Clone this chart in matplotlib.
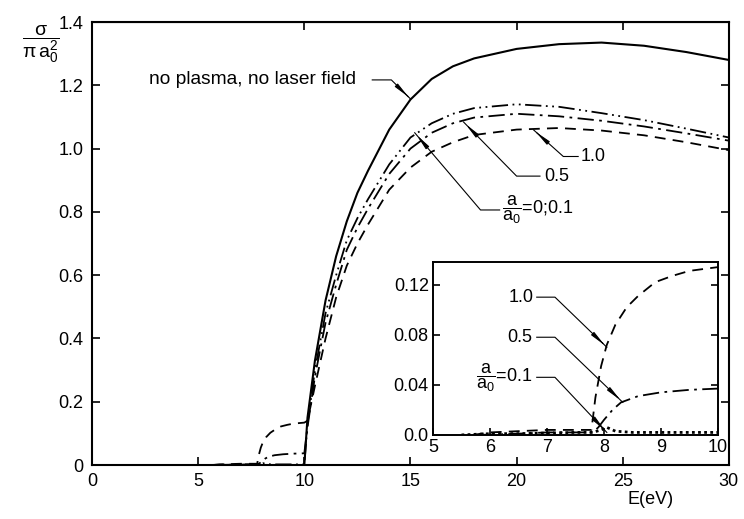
import numpy as np
import matplotlib.pyplot as plt

plt.rcParams['font.family'] = ['Liberation Sans', 'DejaVu Sans']
plt.rcParams['mathtext.fontset'] = 'custom'
plt.rcParams['mathtext.rm'] = 'Liberation Sans'
plt.rcParams['mathtext.it'] = 'Liberation Sans'

# sub-threshold part (5-10 eV), shown in the inset and at the foot of the main plot
thr_x_10 = [5.7, 6.0, 6.5, 7.0, 7.5, 7.78, 7.85, 7.95, 8.05, 8.2, 8.4, 8.6, 8.9, 9.2, 9.5, 10.0]
thr_y_10 = [0.0, 0.002, 0.003, 0.004, 0.004, 0.004, 0.03, 0.055, 0.072, 0.088, 0.102, 0.111, 0.122, 0.127, 0.131, 0.134]
thr_x_05 = [5.8, 6.5, 7.0, 7.5, 7.8, 7.9, 8.0, 8.15, 8.3, 8.6, 9.0, 9.5, 10.0]
thr_y_05 = [0.0, 0.001, 0.002, 0.002, 0.002, 0.006, 0.012, 0.02, 0.026, 0.031, 0.034, 0.036, 0.037]
thr_x_01 = [5.5, 6.0, 6.5, 7.0, 7.5, 7.8, 7.95, 8.05, 8.2, 8.5, 9.0, 9.5, 10.0]
thr_y_01 = [0.0, 0.001, 0.001, 0.0015, 0.002, 0.002, 0.004, 0.006, 0.003, 0.002, 0.002, 0.002, 0.002]

# above threshold (10-30 eV)
e = [10.0, 10.15, 10.5, 11, 11.5, 12, 12.5, 13, 14, 15, 16, 17, 18, 20, 22, 24, 26, 28, 30]
no_plasma = [0.0, 0.15, 0.33, 0.52, 0.66, 0.77, 0.86, 0.93, 1.06, 1.155, 1.22, 1.26, 1.285, 1.315, 1.33, 1.335, 1.325, 1.305, 1.28]
a_01 = [0.002, 0.13, 0.30, 0.48, 0.60, 0.71, 0.78, 0.84, 0.95, 1.035, 1.08, 1.11, 1.128, 1.14, 1.132, 1.112, 1.09, 1.063, 1.035]
a_05 = [0.037, 0.12, 0.28, 0.45, 0.57, 0.68, 0.75, 0.81, 0.92, 1.0, 1.05, 1.08, 1.098, 1.11, 1.102, 1.088, 1.07, 1.048, 1.025]
a_10 = [0.134, 0.14, 0.25, 0.40, 0.53, 0.63, 0.70, 0.76, 0.87, 0.94, 0.99, 1.02, 1.043, 1.06, 1.065, 1.057, 1.042, 1.02, 0.995]

x_ticks = [0, 5, 10, 15, 20, 25, 30]
top_ticks = [10, 15, 20, 25]
y_ticks = [0, 0.2, 0.4, 0.6, 0.8, 1.0, 1.2, 1.4]
y_labels = ['0', '0.2', '0.4', '0.6', '0.8', '1.0', '1.2', '1.4']
in_x_ticks = [5, 6, 7, 8, 9, 10]
in_y_ticks = [0.0, 0.04, 0.08, 0.12]
in_y_labels = ['0.0', '0.04', '0.08', '0.12']

ls_01 = (0, (9, 2.5, 1, 2.5, 1, 2.5))
ls_05 = (0, (9, 3, 1.5, 3))
ls_10 = (0, (6, 4))

fig = plt.figure(figsize=(7.44, 5.19), dpi=100)
ax = fig.add_axes([0.1237, 0.104, 0.856, 0.8536])

ax.plot(e, no_plasma, color='black', lw=1.5)
ax.plot(thr_x_01 + e, thr_y_01 + a_01, color='black', lw=1.3, linestyle=ls_01)
ax.plot(thr_x_05 + e, thr_y_05 + a_05, color='black', lw=1.3, linestyle=ls_05)
ax.plot(thr_x_10 + e, thr_y_10 + a_10, color='black', lw=1.3, linestyle=ls_10)

ax.set_xlim(0, 30)
ax.set_ylim(0, 1.4)
ax.set_xticks(x_ticks)
ax.set_yticks(y_ticks)
ax.set_yticklabels(y_labels)
ax.tick_params(direction='in', length=6, width=1.2, labelsize=13, right=True, pad=6)
top = ax.secondary_xaxis('top')
top.set_xticks(top_ticks)
top.set_xticklabels([])
top.tick_params(direction='in', length=6, width=1.2)
for s in ax.spines.values():
    s.set_linewidth(1.5)


def pointer(axis, text, tx, ty, corner, tip, fs=12, back=0.18):
    axis.text(tx, ty, text, fontsize=fs, ha='left', va='center')
    axis.plot([corner[0], corner[1], tip[0]], [ty, ty, tip[1]], color='black', lw=0.8)
    bx = tip[0] - (tip[0] - corner[1]) * back
    by = tip[1] - (tip[1] - ty) * back
    axis.annotate('', xy=tip, xytext=(bx, by),
                  arrowprops=dict(arrowstyle='-|>,head_length=0.9,head_width=0.12',
                                  color='black', lw=0.8))


# main plot labels
ax.text(2.7, 1.217, 'no plasma, no laser field', fontsize=13.8, ha='left', va='center')
ax.plot([13.2, 14.1, 15.0], [1.217, 1.217, 1.157], color='black', lw=0.8)
ax.annotate('', xy=(15.0, 1.157), xytext=(14.8, 1.17),
            arrowprops=dict(arrowstyle='-|>,head_length=0.9,head_width=0.12', color='black', lw=0.8))
pointer(ax, '1.0', 23.0, 0.975, (22.9, 22.2), (20.8, 1.059), fs=13)
pointer(ax, '0.5', 21.3, 0.913, (21.1, 20.0), (17.5, 1.084), fs=13)
pointer(ax, r'$\dfrac{a}{a_0}$=0;0.1', 19.3, 0.806, (19.2, 18.3), (15.2, 1.05), fs=13)

fig.text(0.055, 0.915, r'$\dfrac{\sigma}{\pi\, a_0^2}$', fontsize=14, ha='center', va='center')
fig.text(0.875, 0.038, 'E(eV)', fontsize=13, ha='center', va='center')

# inset
ins = fig.add_axes([0.582, 0.162, 0.383, 0.333])
ins.plot(thr_x_10, thr_y_10, color='black', lw=1.3, linestyle=ls_10)
ins.plot(thr_x_05, thr_y_05, color='black', lw=1.3, linestyle=ls_05)
ins.plot(thr_x_01, thr_y_01, color='black', lw=2.0, linestyle=(0, (1, 1.2)))
ins.set_xlim(5, 10)
ins.set_ylim(0, 0.138)
ins.set_xticks(in_x_ticks)
ins.set_yticks(in_y_ticks)
ins.set_yticklabels(in_y_labels)
ins.tick_params(direction='in', length=5, width=1.2, labelsize=13, right=True, pad=3)
for s in ins.spines.values():
    s.set_linewidth(1.4)

pointer(ins, '1.0', 6.32, 0.110, (6.82, 7.14), (8.05, 0.070), fs=13, back=0.12)
pointer(ins, '0.5', 6.3, 0.078, (6.82, 7.14), (8.33, 0.026), fs=13, back=0.12)
pointer(ins, r'$\dfrac{a}{a_0}$=0.1', 5.75, 0.046, (6.82, 7.14), (8.05, 0.002), fs=13, back=0.12)

fig.savefig('out.png', dpi=100)
